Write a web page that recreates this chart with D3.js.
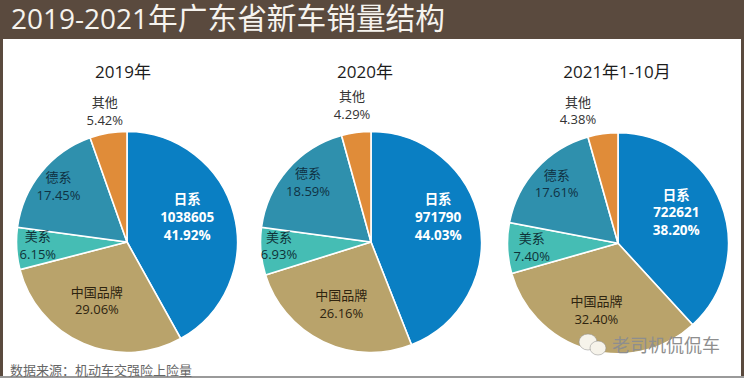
<!DOCTYPE html>
<html>
<head>
<meta charset="utf-8">
<script src="https://cdn.jsdelivr.net/npm/d3@7"></script>
<style>
  html, body { margin: 0; padding: 0; background: #fff; }
  svg { display: block; }
  text { font-family: 'Open Sans', 'Noto Sans CJK SC', sans-serif; text-anchor: middle; }
</style>
</head>
<body>
<div id="chart"></div>
<script>
'use strict';
const titleYears = '2019-2021'
const titleRest = '年广东省新车销量结构'
const sourceNote = '数据来源：机动车交强险上险量'
const watermark = '老司机侃侃车'
const categories = ['日系', '中国品牌', '美系', '德系', '其他']
const pieTitles = ['2019年', '2020年', '2021年1-10月']
const shares2019 = [41.92, 29.06, 6.15, 17.45, 5.42]
const shares2020 = [44.03, 26.16, 6.93, 18.59, 4.29]
const shares2021 = [38.20, 32.40, 7.40, 17.61, 4.38]
const japanVolumes = ['1038605', '971790', '722621']

const sliceColors = ['#0a7fc3', '#b9a36b', '#45bdb4', '#2f90ad', '#e08c39']
const labelColors = ['#fff', '#2e2410', '#0f3238', '#0f3244', '#333']
const width = 744
const height = 378
const radius = 110.5
const lineStep = 17.7
const pieCenters = [[127, 242], [371, 242], [618, 243.3]]
const titleX = [123, 365, 617]
// label offset from the slice centroid, one row per pie
const labelNudge = [
  [[-4, -8], [-4, -2], [-23, -0.5], [-17, -13.5], [-11, -65]],
  [[2, -12], [-1, 2.5], [-26, -1.5], [-13, -16], [-10, -71]],
  [[-3.5, -6.5], [-3.5, 3.5], [-20, 1], [-12.5, -14.5], [-31, -66.6]]
]

const svg = d3.select('#chart')
  .append('svg')
  .attr('width', width)
  .attr('height', height)

// Brown frame and title band
svg.append('rect').attr('width', width).attr('height', height).attr('fill', '#5a4a3e')
svg.append('rect')
  .attr('x', 3).attr('y', 39)
  .attr('width', 738).attr('height', 337)
  .attr('fill', '#fff')
svg.append('rect').attr('x', 0).attr('y', 376).attr('width', width).attr('height', 2).attr('fill', '#9a9a9a')
const title = svg.append('text')
  .attr('x', 11).attr('y', 29)
  .style('text-anchor', 'start')
  .attr('fill', '#f6f3ee')
title.append('tspan').attr('font-size', 28).text(titleYears)
title.append('tspan').attr('font-size', 29.7).text(titleRest)

const pie = d3.pie().sort(null).value(d => d).startAngle(0).endAngle(2 * Math.PI)
const arc = d3.arc().innerRadius(0).outerRadius(radius)
const labelArc = d3.arc().innerRadius(radius * 0.6).outerRadius(radius * 0.6)

function drawPie(shares, i) {
  const g = svg.append('g')
    .attr('transform', `translate(${pieCenters[i][0]},${pieCenters[i][1]})`)
  const slices = pie(shares)

  g.selectAll('path')
    .data(slices)
    .join('path')
    .attr('d', arc)
    .attr('fill', (d, j) => sliceColors[j])
    .attr('stroke', '#fff')
    .attr('stroke-width', 1.6)

  svg.append('text')
    .attr('x', titleX[i]).attr('y', 78)
    .attr('font-size', 17)
    .attr('fill', '#1c1c1c')
    .text(pieTitles[i])

  // Slice labels, block centered on centroid + nudge
  slices.forEach((d, j) => {
    const [cx, cy] = labelArc.centroid(d)
    const lx = cx + labelNudge[i][j][0]
    const ly = cy + labelNudge[i][j][1]
    const pct = `${shares[j].toFixed(2)}%`
    const isJapan = j === 0
    const lines = isJapan ? [categories[j], japanVolumes[i], pct] : [categories[j], pct]
    lines.forEach((line, k) => {
      g.append('text')
        .attr('x', lx)
        .attr('y', ly + (k - (lines.length - 1) / 2) * lineStep + 4.5)
        .attr('font-size', isJapan ? 13.5 : 13)
        .attr('font-weight', isJapan ? 700 : 400)
        .attr('fill', labelColors[j])
        .text(line)
    })
  })
}

drawPie(shares2019, 0)
drawPie(shares2020, 1)
drawPie(shares2021, 2)

// Source note
svg.append('text')
  .attr('x', 10).attr('y', 375)
  .style('text-anchor', 'start')
  .attr('font-size', 13)
  .attr('fill', '#666')
  .text(sourceNote)

// WeChat watermark
const wm = svg.append('g').attr('fill', '#f6f3ea').attr('stroke', '#8a8a8a').attr('stroke-width', 0.5)
wm.append('ellipse').attr('cx', 588).attr('cy', 342).attr('rx', 9).attr('ry', 8)
wm.append('ellipse').attr('cx', 598).attr('cy', 348).attr('rx', 8).attr('ry', 7)
svg.append('text')
  .attr('x', 666).attr('y', 351.5)
  .attr('font-size', 18)
  .attr('fill', '#8e8e8e')
  .text(watermark)
</script>
</body>
</html>
